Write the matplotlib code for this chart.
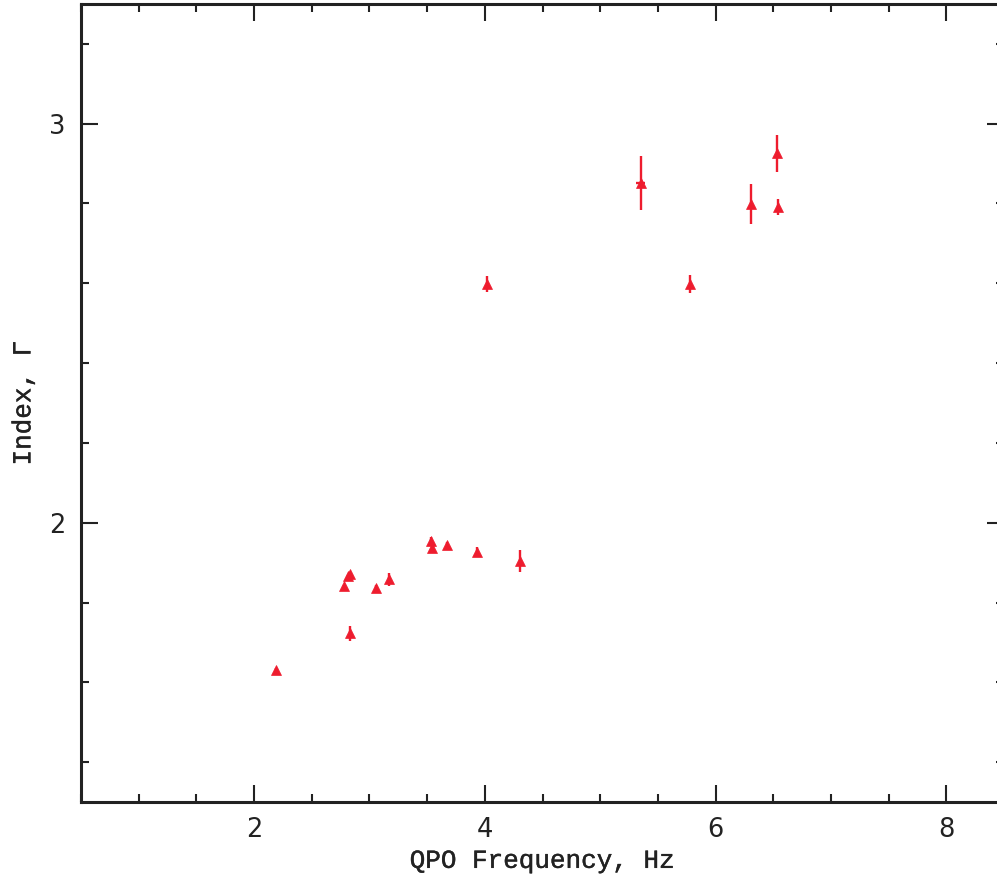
import matplotlib
matplotlib.use("Agg")
import matplotlib.pyplot as plt
import matplotlib.patheffects as pe
from matplotlib.ticker import MultipleLocator

# QPO frequency (Hz) and photon index
freq = [2.19, 2.78, 2.81, 2.83, 2.835, 3.055, 3.17, 3.532, 3.538, 3.67,
        3.935, 4.306, 4.023, 5.35, 5.776, 6.308, 6.536, 6.545]
index = [1.631, 1.841, 1.866, 1.872, 1.723, 1.836, 1.858, 1.953, 1.937, 1.943,
         1.927, 1.904, 2.598, 2.851, 2.598, 2.799, 2.926, 2.791]
index_err = [0.006, 0.004, 0.004, 0.004, 0.019, 0.008, 0.017, 0.012, 0.008, 0.008,
             0.012, 0.027, 0.021, 0.067, 0.022, 0.051, 0.046, 0.020]
freq_err = [0, 0, 0, 0, 0, 0, 0, 0, 0, 0,
            0, 0, 0, 0.04, 0, 0, 0, 0]

red = "#ee1c2e"
ink = "#222222"

fig = plt.figure(figsize=(9.97, 8.82), dpi=100)
ax = fig.add_axes([81 / 997, 80 / 882, 923 / 997, 798 / 882])

ax.errorbar(freq, index, yerr=index_err, xerr=freq_err, fmt="^", color=red,
            ms=7.2, mec=red, mew=0.5, elinewidth=1.7, capsize=0, ls="none")

ax.set_xlim(0.5, 8.5)
ax.set_ylim(1.3, 3.3)
ax.xaxis.set_major_locator(MultipleLocator(2))
ax.xaxis.set_minor_locator(MultipleLocator(0.5))
ax.yaxis.set_major_locator(MultipleLocator(1))
ax.yaxis.set_minor_locator(MultipleLocator(0.2))

ax.tick_params(which="both", direction="in", top=True, right=True, color=ink)
ax.tick_params(which="major", length=12, width=1.5, pad=11,
               labelsize=18.5, labelcolor=ink)
ax.tick_params(which="minor", length=6, width=1.5)
for lab in ax.get_xticklabels() + ax.get_yticklabels():
    lab.set_family("DejaVu Sans")

for sp in ax.spines.values():
    sp.set_linewidth(2.2)
    sp.set_color(ink)

stroke = [pe.withStroke(linewidth=0.3, foreground=ink)]
ax.set_xlabel("QPO Frequency, Hz", family="Liberation Mono", fontsize=18.7,
              color=ink, labelpad=4, path_effects=stroke)
ax.set_ylabel("Index, Γ", family="Liberation Mono", fontsize=18.7,
              color=ink, labelpad=10, path_effects=stroke)

fig.savefig("out.png", dpi=100)
